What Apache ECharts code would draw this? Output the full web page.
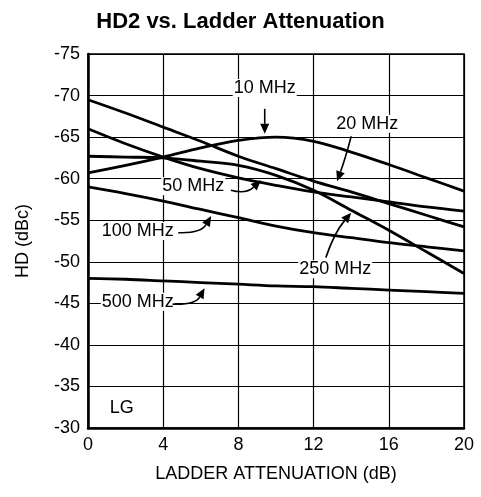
<!DOCTYPE html>
<html>
<head>
<meta charset="utf-8">
<script src="https://cdn.jsdelivr.net/npm/echarts@6/dist/echarts.min.js"></script>
<style>
html, body { margin: 0; padding: 0; background: #fff; }
#hd2_chart { width: 481px; height: 497px; }
</style>
</head>
<body>
<div id="hd2_chart"></div>
<script>
// ladder attenuation (dB)
var atten = [0, 2, 4, 6, 8, 10, 12, 14, 16, 18, 20];
// HD2 (dBc)
var hd10 = [-60.7, -61.6, -62.6, -63.7, -64.6, -65.0, -64.5, -63.2, -61.7, -60.1, -58.5];
var hd20 = [-69.5, -67.9, -66.2, -64.5, -62.7, -61.2, -59.7, -58.4, -57.0, -55.6, -54.2];
var hd50 = [-66.0, -64.2, -62.6, -61.2, -60.1, -59.2, -58.4, -57.8, -57.2, -56.6, -56.1];
var hd100 = [-59.0, -58.2, -57.3, -56.3, -55.3, -54.3, -53.5, -52.9, -52.3, -51.8, -51.3];
var hd250 = [-62.7, -62.6, -62.5, -62.1, -61.6, -60.4, -58.6, -56.2, -53.8, -51.2, -48.6];
var hd500 = [-48.0, -47.9, -47.7, -47.5, -47.3, -47.1, -47.0, -46.8, -46.6, -46.4, -46.2];
var xTicks = [0, 4, 8, 12, 16, 20];
var yTicks = [-75, -70, -65, -60, -55, -50, -45, -40, -35, -30];

// callouts: text, text pos, arrow start, control point, arrow tip (data coords)
var callouts = [
	{text: '10 MHz', at: [9.4, -70.9], from: [9.4, -68.4], ctrl: [9.4, -67.0], to: [9.4, -65.4]},
	{text: '20 MHz', at: [14.85, -66.6], from: [14.0, -65.1], ctrl: [13.7, -62.5], to: [13.25, -59.7]},
	{text: '50 MHz', at: [5.6, -59.1], from: [7.6, -58.6], ctrl: [8.4, -58.1], to: [9.2, -59.8]},
	{text: '100 MHz', at: [2.65, -53.7], from: [4.8, -53.5], ctrl: [6.0, -53.4], to: [6.55, -55.5]},
	{text: '250 MHz', at: [13.15, -49.1], from: [12.65, -50.5], ctrl: [13.1, -53.5], to: [14.0, -55.9]},
	{text: '500 MHz', at: [2.65, -45.2], from: [4.5, -44.9], ctrl: [5.7, -44.8], to: [6.2, -46.8]},
	{text: 'LG', at: [1.8, -32.4]}
];

var hd2_chart = echarts.init(document.getElementById('hd2_chart'));

function curve(name, data) {
	var pts = [];
	for (var i = 0; i < atten.length; i++) {
		pts.push([atten[i], data[i]]);
	}
	return {
		name: name,
		type: 'line',
		data: pts,
		smooth: 0.35,
		showSymbol: false,
		silent: true,
		animation: false,
		lineStyle: {color: '#000', width: 2.8}
	};
}

var font = 'Liberation Sans, Arial, sans-serif';

option = {
	backgroundColor: '#fff',
	title: {
		text: 'HD2 vs. Ladder Attenuation',
		left: 'center',
		top: 6,
		textStyle: {fontFamily: font, fontSize: 22, fontWeight: 'bold', color: '#000'}
	},
	grid: {
		left: 88, right: 17, top: 54, bottom: 69,
		show: true, borderColor: '#000', borderWidth: 1.5
	},
	xAxis: {
		type: 'value',
		min: 0, max: 20, interval: 4,
		name: 'LADDER ATTENUATION (dB)',
		nameLocation: 'middle',
		nameGap: 37,
		nameTextStyle: {fontFamily: font, fontSize: 18, color: '#000'},
		axisLine: {show: true, lineStyle: {color: '#000', width: 2.5}},
		axisTick: {show: false},
		axisLabel: {
			fontFamily: font, fontSize: 18, color: '#000', margin: 8,
			formatter: function (v) { return xTicks.indexOf(v) >= 0 ? v : ''; }
		},
		splitLine: {show: true, lineStyle: {color: '#000', width: 1.2}}
	},
	yAxis: {
		type: 'value',
		inverse: true,
		min: -75, max: -30, interval: 5,
		name: 'HD (dBc)',
		nameLocation: 'middle',
		nameGap: 56,
		nameTextStyle: {fontFamily: font, fontSize: 18, color: '#000'},
		axisLine: {show: true, lineStyle: {color: '#000', width: 2.5}},
		axisTick: {show: false},
		axisLabel: {
			fontFamily: font, fontSize: 18, color: '#000', margin: 8,
			formatter: function (v) { return yTicks.indexOf(v) >= 0 ? v : ''; }
		},
		splitLine: {show: true, lineStyle: {color: '#000', width: 1.2}}
	},
	series: [
		curve('10 MHz', hd10),
		curve('20 MHz', hd20),
		curve('50 MHz', hd50),
		curve('100 MHz', hd100),
		curve('250 MHz', hd250),
		curve('500 MHz', hd500)
	]
};

hd2_chart.setOption(option);

// labels and arrows, placed through the grid's own scale
function px(p) {
	return hd2_chart.convertToPixel({gridIndex: 0}, p);
}

var elements = [];
for (var i = 0; i < callouts.length; i++) {
	var c = callouts[i];
	var at = px(c.at);
	elements.push({
		type: 'text',
		z: 100,
		style: {
			text: c.text, x: at[0], y: at[1],
			align: 'center', verticalAlign: 'middle',
			font: '18px ' + font, fill: '#000',
			backgroundColor: c.text == 'LG' ? null : '#fff',
			padding: [0, 1]
		}
	});
	if (!c.from) continue;
	var a = px(c.from), k = px(c.ctrl), b = px(c.to);
	var dx = b[0] - k[0], dy = b[1] - k[1];
	var len = Math.sqrt(dx * dx + dy * dy);
	dx /= len; dy /= len;
	var hl = 10, hw = 4.5;
	var base = [b[0] - dx * hl, b[1] - dy * hl];
	elements.push({
		type: 'bezierCurve',
		z: 101,
		shape: {x1: a[0], y1: a[1], cpx1: k[0], cpy1: k[1], x2: base[0], y2: base[1]},
		style: {stroke: '#000', lineWidth: 1.6, fill: null}
	});
	elements.push({
		type: 'polygon',
		z: 101,
		shape: {points: [b, [base[0] - dy * hw, base[1] + dx * hw], [base[0] + dy * hw, base[1] - dx * hw]]},
		style: {fill: '#000'}
	});
}
hd2_chart.setOption({graphic: elements});
</script>
</body>
</html>
